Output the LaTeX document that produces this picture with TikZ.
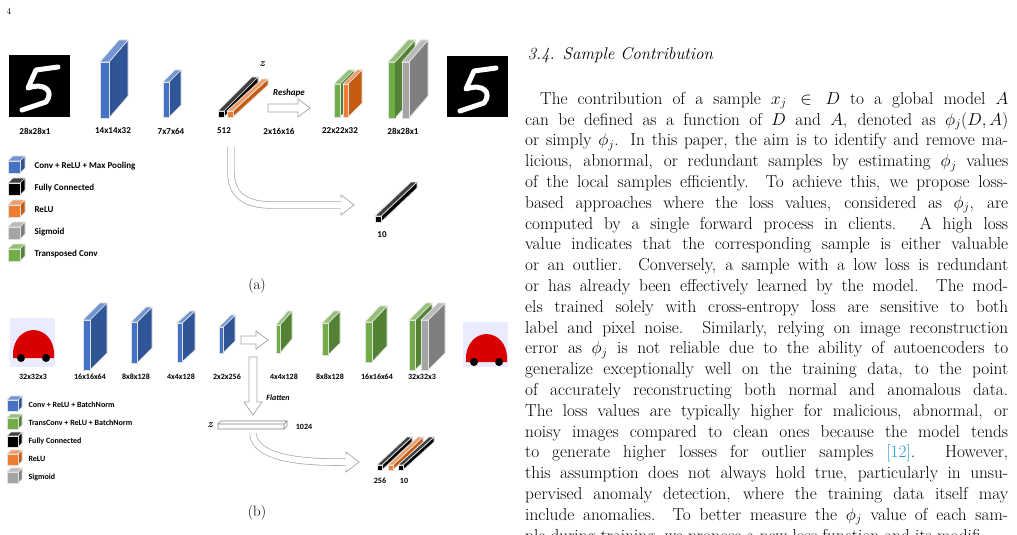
\documentclass[tikz,border=0pt]{standalone}
\usepackage{fontspec}
\newfontfamily\carl{Carlito}
\usetikzlibrary{calc}
\definecolor{bF}{HTML}{4472C4}\definecolor{bS}{HTML}{2F5597}
\definecolor{gF}{HTML}{70AD47}\definecolor{gS}{HTML}{548235}
\definecolor{oF}{HTML}{ED7D31}\definecolor{oS}{HTML}{C55A11}
\definecolor{yF}{HTML}{A5A5A5}\definecolor{yS}{HTML}{7F7F7F}
\definecolor{kF}{HTML}{000000}\definecolor{kS}{HTML}{000000}
\definecolor{cite}{HTML}{1F9BD1}
% x, ytop, w, h, dx, dy, front, side
\newcommand\cub[8]{%
 \filldraw[draw=black!12,line width=0.7pt,fill=#8] ({#1+#3},{#2}) -- ({#1+#3+#5},{#2-#6}) -- ({#1+#3+#5},{#2+#4-#6}) -- ({#1+#3},{#2+#4}) -- cycle;
 \filldraw[draw=black!12,line width=0.7pt,fill=#7!75!white] ({#1},{#2}) -- ({#1+#5},{#2-#6}) -- ({#1+#3+#5},{#2-#6}) -- ({#1+#3},{#2}) -- cycle;
 \filldraw[draw=black!12,line width=0.7pt,fill=#7] ({#1},{#2}) rectangle ({#1+#3},{#2+#4});}
\tikzset{lab/.style={font=\carl\bfseries\fontsize{9}{10}\selectfont},
 labb/.style={font=\carl\bfseries\fontsize{8}{9}\selectfont},
 hollow/.style={draw=black!35,double=white,double distance=6pt,line width=0.7pt},
 head/.style={draw=black!35,fill=white,line width=0.7pt}}
\begin{document}
\begin{tikzpicture}[x=1pt,y=-1pt]
\useasboundingbox (0,0) rectangle (1017,535);
\fill[white] (0,0) rectangle (1017,535);
\node[font=\fontsize{9}{10}\selectfont] at (9,11) {4};
% ===== panel (a)
\fill[black] (9,55) rectangle (70,117);
\draw[white,line width=5pt,line cap=round,line join=round] (58,67) -- (36,70) -- (28,88) .. controls (46,82) and (54,92) .. (46,102) -- (22,110);
\fill[black] (447,56) rectangle (508,117);
\draw[white,line width=5pt,line cap=round,line join=round] (496,68) -- (474,71) -- (466,89) .. controls (484,83) and (492,93) .. (484,103) -- (460,111);
\cub{100}{62}{9}{56}{19}{22}{bF}{bS}
\cub{163}{82}{6}{35}{12}{12}{bF}{bS}
\cub{218}{111}{6}{6}{34}{34}{kF}{kS}
\cub{227}{111}{6}{6}{35}{32}{oF}{oS}
\node[font=\bfseries\itshape\fontsize{11}{12}\selectfont] at (262,64) {z};
\draw[head] (268,104) -- (298,104) -- (298,99) -- (310,108) -- (298,117) -- (298,112) -- (268,112) -- cycle;
\node[font=\carl\bfseries\itshape\fontsize{9}{10}\selectfont] at (289,93) {Reshape};
\cub{334}{84}{6}{33}{14}{14}{gF}{gS}
\cub{343}{84}{5}{33}{14}{14}{oF}{oS}
\cub{388}{62}{7}{56}{20}{22}{gF}{gS}
\cub{402}{62}{7}{56}{19}{22}{yF}{yS}
\draw[gS,line width=1pt] (395,62) -- (395,118);
\foreach \x/\t in {35/28x28x1,113/14x14x32,171/7x7x64,224/512,279/2x16x16,340/22x22x32,403/28x28x1}
  \node[lab] at (\x,131) {\t};
\draw[hollow] (231,147) -- (231,172) .. controls (231,195) and (245,205) .. (272,205) -- (341,205);
\draw[head] (341,198) -- (341,195) -- (354,205) -- (341,215) -- (341,212);
\cub{375}{216}{6}{6}{36}{34}{kF}{kS}
\node[lab] at (382,235) {10};
\foreach \y/\c/\t in {166/b/Conv + ReLU + Max Pooling,188/k/Fully Connected,210/o/ReLU,232/y/Sigmoid,254/g/Transposed Conv}{
  \cub{8}{\y-5}{12}{12}{5}{5}{\c F}{\c S}
  \node[lab,anchor=west] at (31,\y) {\t};}
\node[font=\fontsize{15}{16}\selectfont] at (257,286) {(a)};
% ===== panel (b)
\fill[blue!8!white] (10,318) rectangle (55,367);
\fill[red!85!black] (13,352) .. controls (14,340) and (22,330) .. (34,330) .. controls (46,331) and (53,340) .. (54,352) -- (54,358) -- (13,358) -- cycle;
\fill[black] (21,358) circle (4); \fill[black] (46,358) circle (4);
\fill[blue!8!white] (463,322) rectangle (508,367);
\fill[red!85!black] (466,356) .. controls (467,344) and (475,334) .. (487,334) .. controls (499,335) and (506,344) .. (507,356) -- (507,362) -- (466,362) -- cycle;
\fill[black] (474,362) circle (4); \fill[black] (499,362) circle (4);
\cub{83}{320}{7}{50}{17}{17}{bF}{bS}
\cub{131}{322}{6}{41}{15}{15}{bF}{bS}
\cub{177}{323}{5}{39}{13}{12}{bF}{bS}
\cub{219}{327}{4}{26}{12}{12}{bF}{bS}
\draw[head] (241,336) -- (256,336) -- (256,331) -- (268,340) -- (256,349) -- (256,344) -- (241,344) -- cycle;
\cub{276}{325}{4}{28}{12}{14}{gF}{gS}
\cub{322}{323}{6}{32}{12}{12}{gF}{gS}
\cub{365}{322}{7}{40}{15}{16}{gF}{gS}
\cub{409}{320}{6}{50}{17}{17}{gF}{gS}
\cub{421}{320}{7}{50}{17}{17}{yF}{yS}
\foreach \x/\t in {33/32x32x3,90/16x16x64,136/8x8x128,181/4x4x128,227/2x2x256,284/4x4x128,330/8x8x128,377/16x16x64,422/32x32x3}
  \node[labb] at (\x,377) {\t};
\draw[head] (249,357) -- (257,357) -- (257,402) -- (262,402) -- (253,415) -- (244,402) -- (249,402) -- cycle;
\node[font=\carl\bfseries\itshape\fontsize{8}{9}\selectfont] at (278,398) {Flatten};
\node[font=\bfseries\itshape\fontsize{11}{12}\selectfont] at (210,425) {z};
\fill[white] (218,424) rectangle (284,429);
\draw[black!50,line width=0.6pt] (218,424) rectangle (284,429) (218,424) -- (221,421) -- (287,421) -- (287,426) -- (284,429) (284,424) -- (287,421);
\node[labb] at (304,427) {1024};
\draw[hollow] (253,434) .. controls (255,455) and (290,463) .. (346,462);
\draw[head] (346,455) -- (346,452) -- (359,462) -- (346,472) -- (346,469);
\cub{377}{465}{5}{5}{30}{28}{kF}{kS}
\cub{388}{465}{5}{5}{30}{28}{oF}{oS}
\cub{398}{465}{5}{5}{31}{28}{kF}{kS}
\node[labb] at (380,481) {256};
\node[labb] at (404,481) {10};
\foreach \y/\c/\t in {405/b/Conv + ReLU + BatchNorm,423/g/TransConv + ReLU + BatchNorm,441/k/Fully Connected,459/o/ReLU,477/y/Sigmoid}{
  \cub{7}{\y-5}{11}{11}{4}{4}{\c F}{\c S}
  \node[labb,anchor=west] at (25,\y) {\t};}
\node[font=\fontsize{15}{16}\selectfont] at (257,513) {(b)};
% ===== text column
\node[anchor=west,font=\itshape\fontsize{17}{18}\selectfont] at (524,55) {3.4. Sample Contribution};
\node[anchor=north west,inner sep=0pt,text width=483pt,align=justify,font=\fontsize{17.3}{20.8}\selectfont] at (525,92) {%
\hspace*{15pt}The contribution of a sample $x_j\in D$ to a global model $A$\linebreak
can be defined as a function of $D$ and $A$, denoted as $\phi_j(D,A)$\linebreak
or simply $\phi_j$. In this paper, the aim is to identify and remove ma-\linebreak
licious, abnormal, or redundant samples by estimating $\phi_j$ values\linebreak
of the local samples efficiently. To achieve this, we propose loss-\linebreak
based approaches where the loss values, considered as $\phi_j$, are\linebreak
computed by a single forward process in clients. A high loss\linebreak
value indicates that the corresponding sample is either valuable\linebreak
or an outlier. Conversely, a sample with a low loss is redundant\linebreak
or has already been effectively learned by the model. The mod-\linebreak
els trained solely with cross-entropy loss are sensitive to both\linebreak
label and pixel noise. Similarly, relying on image reconstruction\linebreak
error as $\phi_j$ is not reliable due to the ability of autoencoders to\linebreak
generalize exceptionally well on the training data, to the point\linebreak
of accurately reconstructing both normal and anomalous data.\linebreak
The loss values are typically higher for malicious, abnormal, or\linebreak
noisy images compared to clean ones because the model tends\linebreak
to generate higher losses for outlier samples {\color{cite}[12]}. However,\linebreak
this assumption does not always hold true, particularly in unsu-\linebreak
pervised anomaly detection, where the training data itself may\linebreak
include anomalies. To better measure the $\phi_j$ value of each sam-\linebreak
ple during training, we propose a new loss function and its modifi-};
\end{tikzpicture}
\end{document}
